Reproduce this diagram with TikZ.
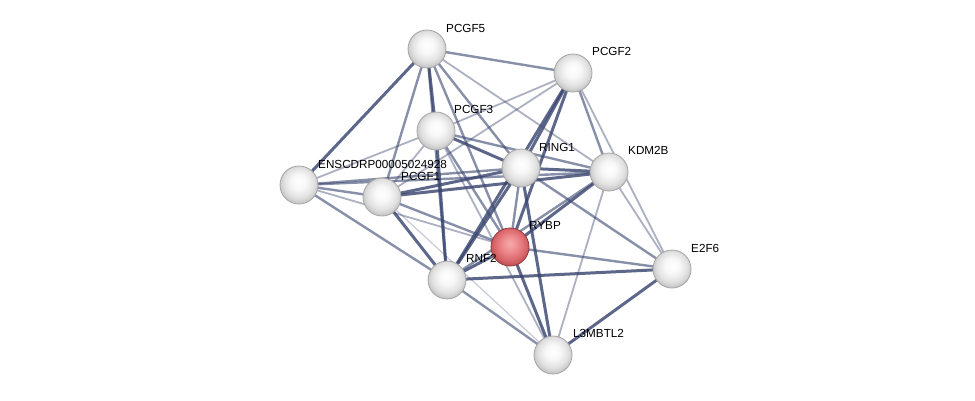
\documentclass[tikz,border=0pt]{standalone}
\usepackage{fontspec}
\setmainfont{Liberation Sans}
\definecolor{edgec}{RGB}{58,70,112}
\pgfdeclareradialshading{wball}{\pgfpoint{0bp}{5bp}}{color(0bp)=(white); color(10bp)=(white!97!black); color(20bp)=(white!88!black); color(27bp)=(white!76!black); color(50bp)=(white!76!black)}
\pgfdeclareradialshading{rball}{\pgfpoint{0bp}{5bp}}{color(0bp)=(rgb,255:red,248;green,170;blue,172); color(10bp)=(rgb,255:red,238;green,140;blue,143); color(20bp)=(rgb,255:red,220;green,105;blue,110); color(27bp)=(rgb,255:red,190;green,80;blue,85); color(50bp)=(rgb,255:red,190;green,80;blue,85)}
\tikzset{
  ballw/.style={circle,minimum size=38pt,inner sep=0pt,shading=wball,draw=gray!70,line width=0.8pt},
  ballr/.style={ballw,shading=rball,draw={rgb,255:red,150;green,55;blue,60}},
  lab/.style={anchor=base west,inner sep=0pt,font=\fontsize{11.7}{14}\selectfont,text=black},
  eA/.style={draw=edgec,line width=1.8pt,draw opacity=0.42},
  eB/.style={draw=edgec,line width=2.4pt,draw opacity=0.6},
  eC/.style={draw=edgec,line width=3pt,draw opacity=0.82},
}
\begin{document}
\begin{tikzpicture}[x=1pt,y=-1pt]
\useasboundingbox[fill=white] (0,0) rectangle (975,400);
% node coordinates
\coordinate (cP5) at (427,49);
\coordinate (cP2) at (573,73);
\coordinate (cP3) at (436,131);
\coordinate (cR1) at (521,168);
\coordinate (cK) at (609,172);
\coordinate (cEN) at (299,185);
\coordinate (cP1) at (382,197);
\coordinate (cRY) at (510,247);
\coordinate (cRN) at (447,280);
\coordinate (cE2) at (672,269);
\coordinate (cL3) at (553,355);
% edges
\draw[eB] (cP5) -- (cP2);
\draw[eC] (cP5) -- (cEN);
\draw[eB] (cP5) -- (cP1);
\draw[eC] (cP5) -- (cP3);
\draw[eB] (cP5) -- (cR1);
\draw[eA] (cP5) -- (cK);
\draw[eB] (cP5) -- (cRY);
\draw[eB] (cP5) -- (cRN);
\draw[eA] (cP2) -- (cP3);
\draw[eA] (cP2) -- (cP1);
\draw[eC] (cP2) -- (cR1);
\draw[eB] (cP2) -- (cK);
\draw[eA] (cP2) -- (cE2);
\draw[eC] (cP2) -- (cRY);
\draw[eC] (cP2) -- (cRN);
\draw[eA] (cP3) -- (cEN);
\draw[eA] (cP3) -- (cP1);
\draw[eC] (cP3) -- (cR1);
\draw[eB] (cP3) -- (cK);
\draw[eB] (cP3) -- (cRY);
\draw[eC] (cP3) -- (cRN);
\draw[eA] (cP3) -- (cL3);
\draw[eB] (cR1) -- (cEN);
\draw[eC] (cR1) -- (cP1);
\draw[eC] (cR1) -- (cK);
\draw[eB] (cR1) -- (cRY);
\draw[eC] (cR1) -- (cRN);
\draw[eC] (cR1) -- (cL3);
\draw[eB] (cR1) -- (cE2);
\draw[eB] (cK) -- (cEN);
\draw[eC] (cK) -- (cP1);
\draw[eC] (cK) -- (cRY);
\draw[eB] (cK) -- (cRN);
\draw[eA] (cK) -- (cL3);
\draw[eA] (cK) -- (cE2);
\draw[eB] (cEN) -- (cP1);
\draw[eB] (cEN) -- (cRN);
\draw[eA] (cEN) -- (cRY);
\draw[eB] (cP1) -- (cRY);
\draw[eC] (cP1) -- (cRN);
\draw[draw=edgec,line width=1.2pt,draw opacity=0.28] (cP1) -- (cL3);
\draw[eC] (cRY) -- (cRN);
\draw[eB] (cRY) -- (cE2);
\draw[eC] (cRY) -- (cL3);
\draw[eC] (cRN) -- (cE2);
\draw[eB] (cRN) -- (cL3);
\draw[eC] (cE2) -- (cL3);
% nodes
\node[ballw] (P5) at (cP5) {};
\node[ballw] (P2) at (cP2) {};
\node[ballw] (P3) at (cP3) {};
\node[ballw] (R1) at (cR1) {};
\node[ballw] (K) at (cK) {};
\node[ballw] (EN) at (cEN) {};
\node[ballw] (P1) at (cP1) {};
\node[ballr] (RY) at (cRY) {};
\node[ballw] (RN) at (cRN) {};
\node[ballw] (E2) at (cE2) {};
\node[ballw] (L3) at (cL3) {};
% labels
\node[lab] (tP5) at (446,32) {PCGF5};
\node[lab] (tP2) at (592,55) {PCGF2};
\node[lab] (tP3) at (454,113) {PCGF3};
\node[lab] (tR1) at (539,151) {RING1};
\node[lab] (tK) at (628,154) {KDM2B};
\node[lab] (tEN) at (318,168) {ENSCDRP00005024928};
\node[lab] (tP1) at (401,180) {PCGF1};
\node[lab] (tRY) at (529,229) {RYBP};
\node[lab] (tRN) at (466,262) {RNF2};
\node[lab] (tE2) at (691,252) {E2F6};
\node[lab] (tL3) at (573,337) {L3MBTL2};
\end{tikzpicture}
\end{document}
